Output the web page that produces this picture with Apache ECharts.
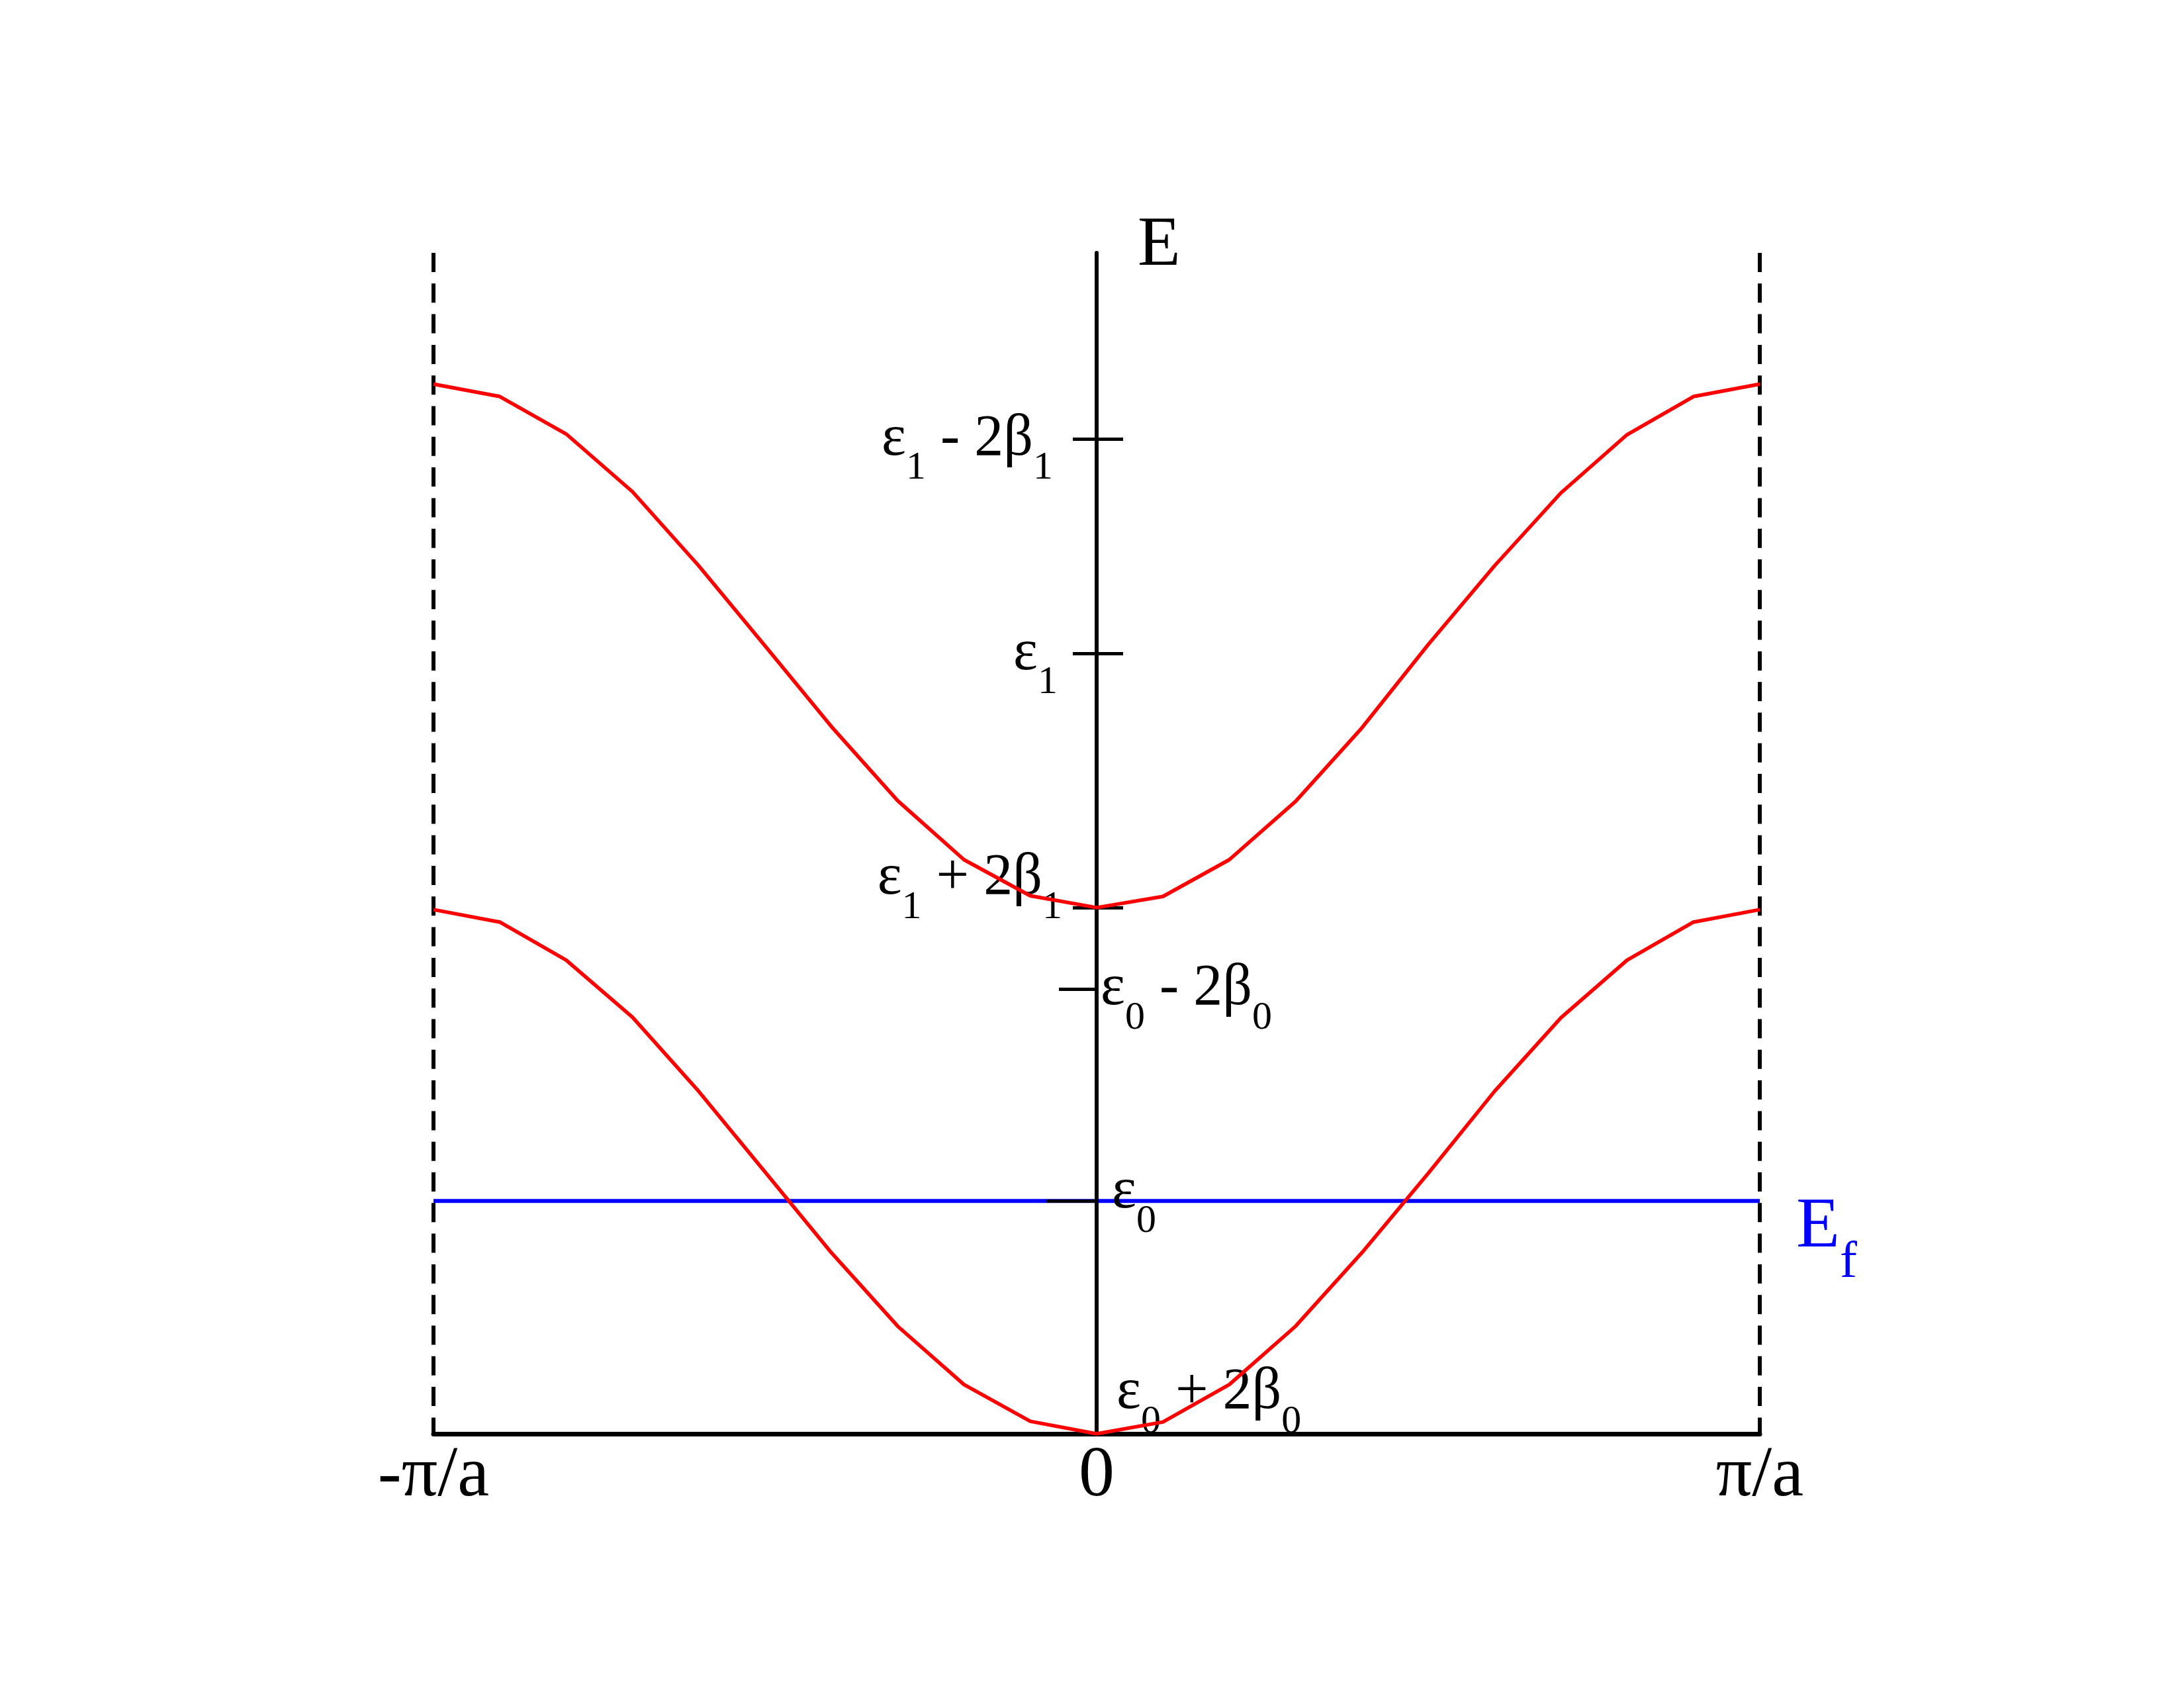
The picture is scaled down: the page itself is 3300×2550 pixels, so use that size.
<!DOCTYPE html>
<html>
<head>
<meta charset="utf-8">
<script src="https://cdn.jsdelivr.net/npm/echarts@6/dist/echarts.min.js"></script>
<style>
html, body { margin: 0; padding: 0; background: #ffffff; }
#chart { width: 3300px; height: 2550px; }
</style>
</head>
<body>
<div id="chart"></div>
<script>
// ---------------- data ----------------
// wave vector k in units of pi/a
const kValues = [-1.0, -0.9, -0.8, -0.7, -0.6, -0.5, -0.4, -0.3, -0.2, -0.1, 0.0,
                  0.1,  0.2,  0.3,  0.4,  0.5,  0.6,  0.7,  0.8,  0.9, 1.0];
// energies (arbitrary units, bottom of lower band = 0)
const upperBand = [16.00, 15.81, 15.24, 14.36, 13.23, 12.01, 10.78, 9.65, 8.75, 8.20, 8.02,
                   8.19, 8.75, 9.64, 10.76, 12.03, 13.23, 14.34, 15.23, 15.81, 16.00];
const lowerBand = [7.99, 7.80, 7.22, 6.35, 5.22, 3.99, 2.76, 1.64, 0.75, 0.19, 0.00,
                   0.18, 0.75, 1.64, 2.76, 3.97, 5.22, 6.34, 7.22, 7.80, 7.99];
const fermiEnergy = 3.55;

const kTickValues = [-1, 0, 1];
const kTickLabels = ['-\u03C0/a', '0', '\u03C0/a'];

const energyTickValues = [0, 3.55, 6.78, 8.02, 11.89, 15.16];
// alternating normal / subscript parts
const energyTickLabels = [
  ['\u03B5', '0', ' + 2\u03B2', '0'],
  ['\u03B5', '0'],
  ['\u03B5', '0', ' - 2\u03B2', '0'],
  ['\u03B5', '1', ' + 2\u03B2', '1'],
  ['\u03B5', '1'],
  ['\u03B5', '1', ' - 2\u03B2', '1']
];
const energyAxisMin = 0;
const energyAxisMax = 18;

// ---------------- styling ----------------
const SERIF = '"Liberation Serif", "Times New Roman", serif';
const BLACK = '#000000';
const GRID_LEFT = 655, GRID_RIGHT = 641;
const AXIS_SHIFT = -(3300 - GRID_LEFT - GRID_RIGHT) / 2; // move the E axis to k = 0

// per-label layout tweaks (index into energyTickValues)
const labelLayout = [
  { indent: 24, trail: 0,  lift: 124 },
  { indent: 17, trail: 0,  lift: 26 },
  { indent: 0,  trail: 0,  lift: 0 },
  { indent: 0,  trail: 0,  lift: 88 },
  { indent: 0,  trail: 7,  lift: 0 },
  { indent: 0,  trail: 14, lift: 0 }
];
const MAIN = { fontFamily: SERIF, fontSize: 88, color: BLACK, lineHeight: 100 };
const SUB = { fontFamily: SERIF, fontSize: 60, color: BLACK, lineHeight: 60, padding: [88, 0, 0, 0] };

const rich = { main: MAIN, sub: SUB };
labelLayout.forEach((l, i) => {
  rich['mainFirst' + i] = Object.assign({}, MAIN, { padding: [0, 0, 0, l.indent] });
  rich['subLast' + i] = Object.assign({}, SUB, { padding: [88, l.trail, 0, 0] });
  rich['gap' + i] = { fontSize: 8, lineHeight: Math.max(l.lift, 1) };
});

function tickIndex(v) {
  for (let i = 0; i < energyTickValues.length; i++) {
    if (Math.abs(energyTickValues[i] - v) < 1e-6) return i;
  }
  return -1;
}
function energyLabel(v) {
  const i = tickIndex(v);
  if (i < 0) return '';
  const parts = energyTickLabels[i];
  let s = '';
  parts.forEach((p, j) => {
    const isSub = j % 2 === 1;
    let style = isSub ? 'sub' : 'main';
    if (j === 0) style = 'mainFirst' + i;
    if (isSub && j === parts.length - 1) style = 'subLast' + i;
    s += '{' + style + '|' + p + '}';
  });
  if (labelLayout[i].lift > 0) s += '\n{gap' + i + '| }';
  return s;
}

const upperTicks = energyTickValues.slice(3);
const lowerLabelTicks = energyTickValues.slice(0, 3);

function yAxisBase(extra) {
  return Object.assign({
    type: 'value',
    min: energyAxisMin,
    max: energyAxisMax,
    position: 'left',
    offset: AXIS_SHIFT,
    axisLine: { show: false, onZero: false },
    splitLine: { show: false },
    axisTick: { show: false },
    axisLabel: { show: false }
  }, extra);
}

const option = {
  animation: false,
  backgroundColor: '#ffffff',
  grid: { left: GRID_LEFT, right: GRID_RIGHT, top: 382, bottom: 384, outerBoundsMode: 'none', containLabel: false },
  xAxis: {
    type: 'value',
    min: -1,
    max: 1,
    interval: 1,
    axisLine: { show: true, onZero: false, lineStyle: { color: BLACK, width: 7 } },
    axisTick: { show: false },
    splitLine: { show: true, lineStyle: { color: BLACK, width: 6, type: [29, 17.3], dashOffset: 0 } },
    axisLabel: {
      fontFamily: SERIF, fontSize: 108, color: BLACK, margin: 11,
      formatter: v => { const i = kTickValues.indexOf(v); return i >= 0 ? kTickLabels[i] : ''; }
    }
  },
  yAxis: [
    yAxisBase({
      name: 'E',
      nameLocation: 'end',
      nameGap: 10,
      nameTextStyle: { fontFamily: SERIF, fontSize: 106, color: BLACK, align: 'left', verticalAlign: 'middle', padding: [0, 0, 0, 62] },
      axisLine: { show: true, onZero: false, lineStyle: { color: BLACK, width: 6 } },
      axisTick: { show: true, inside: false, length: 36, customValues: upperTicks, lineStyle: { color: BLACK, width: 5 } },
      axisLabel: { show: true, inside: false, margin: 52, customValues: upperTicks, formatter: energyLabel, rich: rich }
    }),
    yAxisBase({
      axisTick: { show: true, inside: true, length: 40, customValues: upperTicks, lineStyle: { color: BLACK, width: 5 } }
    }),
    yAxisBase({
      axisTick: { show: true, inside: false, length: 76, customValues: [energyTickValues[0], energyTickValues[1]], lineStyle: { color: BLACK, width: 5 } },
      axisLabel: { show: true, inside: true, margin: 6, customValues: lowerLabelTicks, formatter: energyLabel, rich: rich }
    }),
    yAxisBase({
      axisTick: { show: true, inside: false, length: 57, customValues: [energyTickValues[2]], lineStyle: { color: BLACK, width: 5 } }
    })
  ],
  series: [
    {
      type: 'line',
      name: 'Ef',
      silent: true,
      symbol: 'none',
      data: [[kValues[0], fermiEnergy], [kValues[kValues.length - 1], fermiEnergy]],
      lineStyle: { color: '#0000ff', width: 6 },
      z: -1,
      endLabel: {
        show: true,
        distance: 55,
        offset: [0, 40],
        formatter: '{e|E}{f|f}',
        rich: {
          e: { fontFamily: SERIF, fontSize: 108, color: '#0000ff', lineHeight: 110 },
          f: { fontFamily: SERIF, fontSize: 78, color: '#0000ff', lineHeight: 78, padding: [108, 0, 0, 0] }
        }
      }
    },
    {
      type: 'line',
      name: 'upper band',
      silent: true,
      symbol: 'none',
      data: kValues.map((k, i) => [k, upperBand[i]]),
      lineStyle: { color: '#ff0000', width: 5.5 },
      z: 4
    },
    {
      type: 'line',
      name: 'lower band',
      silent: true,
      symbol: 'none',
      data: kValues.map((k, i) => [k, lowerBand[i]]),
      lineStyle: { color: '#ff0000', width: 5.5 },
      z: 4
    }
  ]
};

const chart = echarts.init(document.getElementById('chart'), null, { renderer: 'canvas' });
chart.setOption(option);
</script>
</body>
</html>
